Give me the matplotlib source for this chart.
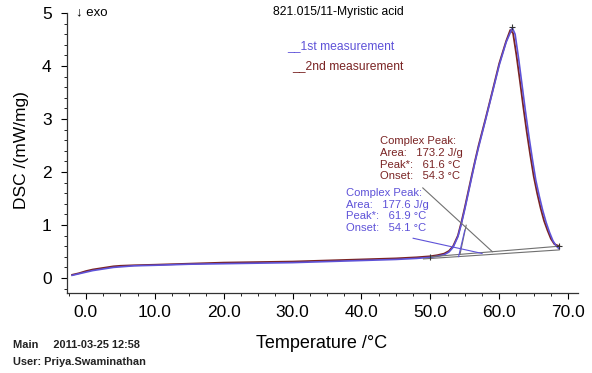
import matplotlib
matplotlib.use("Agg")
import matplotlib.pyplot as plt
from matplotlib.ticker import MultipleLocator, FormatStrFormatter

plt.rcParams['font.family'] = ['Liberation Sans', 'DejaVu Sans']

# ---- data ----
temp_1 = [-2.0, -1.0, 0.0, 1.0, 2.0, 3.0, 4.0, 5.0, 7.0, 10.0, 15.0, 20.0, 25.0, 30.0,
          35.0, 40.0, 45.0, 48.0, 50.0, 51.0, 52.0, 52.7, 53.3, 54.0, 54.5, 55.0, 55.5,
          56.0, 56.5, 57.0, 58.0, 59.0, 60.0, 61.0, 61.9, 62.3, 62.8, 63.3, 63.8, 64.3,
          64.8, 65.3, 65.8, 66.3, 66.8, 67.3, 67.8, 68.3, 68.7]
dsc_1 = [0.05, 0.08, 0.11, 0.14, 0.16, 0.18, 0.20, 0.21, 0.23, 0.24, 0.26, 0.27, 0.28, 0.29,
         0.31, 0.33, 0.35, 0.37, 0.39, 0.41, 0.44, 0.49, 0.58, 0.78, 1.02, 1.30, 1.60,
         1.90, 2.20, 2.47, 2.98, 3.50, 4.02, 4.45, 4.72, 4.60, 4.15, 3.65, 3.15, 2.68,
         2.25, 1.85, 1.55, 1.28, 1.05, 0.86, 0.70, 0.60, 0.55]

temp_2 = [-2.0, -1.0, 0.0, 1.0, 2.0, 3.0, 4.0, 5.0, 7.0, 10.0, 15.0, 20.0, 25.0, 30.0,
          35.0, 40.0, 45.0, 48.0, 50.0, 51.0, 52.0, 52.7, 53.3, 54.0, 54.5, 55.0, 55.5,
          56.0, 56.5, 57.0, 58.0, 59.0, 60.0, 61.0, 61.6, 62.0, 62.5, 63.0, 63.5, 64.0,
          64.5, 65.0, 65.5, 66.0, 66.5, 67.0, 67.5, 68.0, 68.7]
dsc_2 = [0.06, 0.09, 0.13, 0.16, 0.18, 0.20, 0.22, 0.23, 0.24, 0.25, 0.27, 0.29, 0.30, 0.31,
         0.33, 0.35, 0.37, 0.39, 0.41, 0.43, 0.46, 0.51, 0.60, 0.80, 1.05, 1.33, 1.63,
         1.93, 2.22, 2.50, 3.00, 3.52, 4.05, 4.47, 4.68, 4.62, 4.20, 3.72, 3.22, 2.75,
         2.32, 1.92, 1.60, 1.32, 1.08, 0.90, 0.74, 0.64, 0.60]

baseline_1 = ([49.0, 68.7], [0.36, 0.53])
baseline_2 = ([50.0, 68.7], [0.40, 0.60])

ann_1 = "Complex Peak:\nArea:   177.6 J/g\nPeak*:   61.9 °C\nOnset:   54.1 °C"
ann_2 = "Complex Peak:\nArea:   173.2 J/g\nPeak*:   61.6 °C\nOnset:   54.3 °C"
onset_1 = 54.1
onset_2 = 54.3

x_ticks = [0, 10, 20, 30, 40, 50, 60, 70]
y_ticks = [0, 1, 2, 3, 4, 5]

blue = '#5e52d8'
red = '#7a2424'
grey = '#707070'

fig = plt.figure(figsize=(5.92, 3.73), dpi=100)
ax = fig.add_axes([0.113, 0.2145, 0.863, 0.7505])

ax.plot(temp_2, dsc_2, color=red, lw=1.3)
ax.plot(temp_1, dsc_1, color=blue, lw=1.2)

# evaluation lines
ax.plot(*baseline_2, color=grey, lw=0.8)
ax.plot(*baseline_1, color=grey, lw=0.8)


def base_at(bl, t):
    (x0, x1), (y0, y1) = bl
    return y0 + (y1 - y0) * (t - x0) / (x1 - x0)


# tangents at onset
ax.plot([onset_2, onset_2 + 0.9], [base_at(baseline_2, onset_2), base_at(baseline_2, onset_2) + 0.55],
        color=grey, lw=0.8)
ax.plot([onset_1, onset_1 + 0.9], [base_at(baseline_1, onset_1), base_at(baseline_1, onset_1) + 0.5],
        color=blue, lw=0.8)

# end / peak markers
ax.plot([baseline_2[0][1]], [baseline_2[1][1]], marker='+', color='#333333', ms=5, mew=0.8)
ax.plot([61.8], [4.74], marker='+', color='#333333', ms=5, mew=0.8)
ax.plot([baseline_2[0][0]], [baseline_2[1][0]], marker='|', color='#333333', ms=4, mew=0.8)

# annotations
ax.text(42.7, 2.68, ann_2, color=red, fontsize=8.1, va='top', ha='left', linespacing=1.22)
ax.text(37.8, 1.70, ann_1, color=blue, fontsize=8.1, va='top', ha='left', linespacing=1.22)
ax.plot([48.9, 59.0], [1.70, base_at(baseline_2, 59.0)], color=grey, lw=0.8)
ax.plot([47.5, 57.5], [0.75, base_at(baseline_1, 57.5) + 0.03], color=blue, lw=0.8)

# legend-like texts
ax.text(29.2, 4.38, "__1st measurement", color=blue, fontsize=8.7, va='center')
ax.text(29.9, 3.99, "__2nd measurement", color=red, fontsize=8.7, va='center')

ax.set_xlim(-2.76, 71.4)
ax.set_ylim(-0.283, 5.0)
ax.set_xticks(x_ticks)
ax.set_yticks(y_ticks)
ax.xaxis.set_major_formatter(FormatStrFormatter('%.1f'))
ax.xaxis.set_minor_locator(MultipleLocator(2.5))
ax.yaxis.set_minor_locator(MultipleLocator(0.2))
ax.tick_params(axis='both', which='major', labelsize=12.5, length=4, width=0.8, direction='out')
ax.tick_params(axis='x', which='major', pad=5)
ax.tick_params(axis='y', which='major', pad=7)
ax.tick_params(axis='both', which='minor', length=2.5, width=0.6, direction='out')
for s in ['top', 'right']:
    ax.spines[s].set_visible(False)
for s in ['left', 'bottom']:
    ax.spines[s].set_linewidth(0.9)
    ax.spines[s].set_color('#333333')

fig.text(22 / 592, 1 - 150 / 373, "DSC /(mW/mg)", rotation=90, fontsize=12.5, ha='center', va='center')
fig.text(322 / 592, 1 - 343 / 373, "Temperature /°C", fontsize=13, ha='center', va='center')
fig.text(338 / 592, 1 - 12 / 373, "821.015/11-Myristic acid", fontsize=8.7, ha='center', va='center')
fig.text(76 / 592, 1 - 12 / 373, "↓ exo", fontsize=9.5, ha='left', va='center')
fig.text(13 / 592, 1 - 345 / 373, "Main     2011-03-25 12:58", fontsize=7.9, fontweight='bold',
         ha='left', va='center', color='#222222')
fig.text(13 / 592, 1 - 362 / 373, "User: Priya.Swaminathan", fontsize=7.9, fontweight='bold',
         ha='left', va='center', color='#222222')

fig.savefig("out.png", dpi=100)
